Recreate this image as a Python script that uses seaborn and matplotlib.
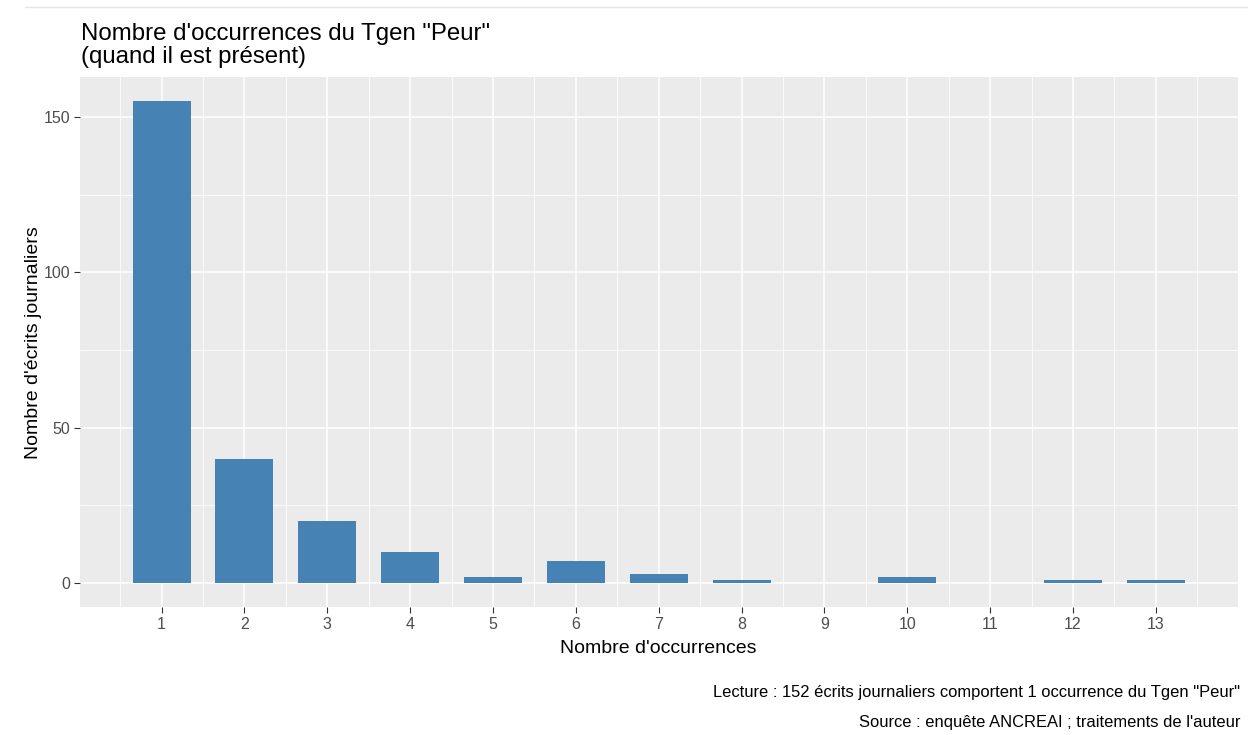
import pandas as pd
import matplotlib.pyplot as plt
import seaborn as sns
from matplotlib.lines import Line2D

# Values
occurrences = [1, 2, 3, 4, 5, 6, 7, 8, 9, 10, 11, 12, 13]
nb_ecrits = [155, 40, 20, 10, 2, 7, 3, 1, 0, 2, 0, 1, 1]
x_ticks = list(range(1, 14))
y_ticks = [0, 50, 100, 150]

df = pd.DataFrame({'occ': occurrences, 'n': nb_ecrits})

sns.set_theme(style="darkgrid")
plt.rcParams['font.family'] = ['Liberation Sans', 'DejaVu Sans']

fig = plt.figure(figsize=(12.48, 7.35), dpi=100)
ax = fig.add_axes([80 / 1248, 1 - 607 / 735, 1157.5 / 1248, (607 - 77.4) / 735])
ax.set_facecolor('#EBEBEB')

sns.barplot(data=df, x='occ', y='n', native_scale=True, width=0.7,
            color='#4682B4', saturation=1, edgecolor='none', ax=ax, zorder=3)

# ggplot style grid
ax.set_xticks(x_ticks)
ax.set_xticks([v + 0.5 for v in range(0, 14)], minor=True)
ax.set_yticks(y_ticks)
ax.set_yticks([25, 75, 125], minor=True)
ax.grid(which='major', color='white', linewidth=1.1)
ax.grid(which='minor', color='white', linewidth=0.55)
ax.set_axisbelow(True)
ax.set_xlim(0.015, 13.985)
ax.set_ylim(-7.75, 162.75)
for s in ax.spines.values():
    s.set_visible(False)

ax.tick_params(axis='both', which='major', length=4, width=0.8, color='#333333',
               labelcolor='#4D4D4D', labelsize=11.5, pad=3, bottom=True, left=True)
ax.tick_params(which='minor', length=0)

ax.set_xlabel("Nombre d'occurrences", fontsize=14, color='black', labelpad=6)
ax.set_ylabel("Nombre d'écrits journaliers", fontsize=14, color='black', labelpad=1)

fig.text(81 / 1248, 1 - 23 / 735, "Nombre d'occurrences du Tgen \"Peur\"\n(quand il est présent)",
         fontsize=17.3, ha='left', va='top', color='black', linespacing=1.05)

fig.text(1240 / 1248, 1 - 692 / 735,
         "Lecture : 152 écrits journaliers comportent 1 occurrence du Tgen \"Peur\"",
         fontsize=11.9, ha='right', va='center', color='black')
fig.text(1240 / 1248, 1 - 722 / 735,
         "Source : enquête ANCREAI ; traitements de l'auteur",
         fontsize=11.9, ha='right', va='center', color='black')

# thin line at top of the screenshot
fig.add_artist(Line2D([0.02, 1.0], [1 - 7 / 735, 1 - 7 / 735],
                      color='#E5E5E5', linewidth=1, transform=fig.transFigure))

fig.savefig('out.png', dpi=100, facecolor='white')
